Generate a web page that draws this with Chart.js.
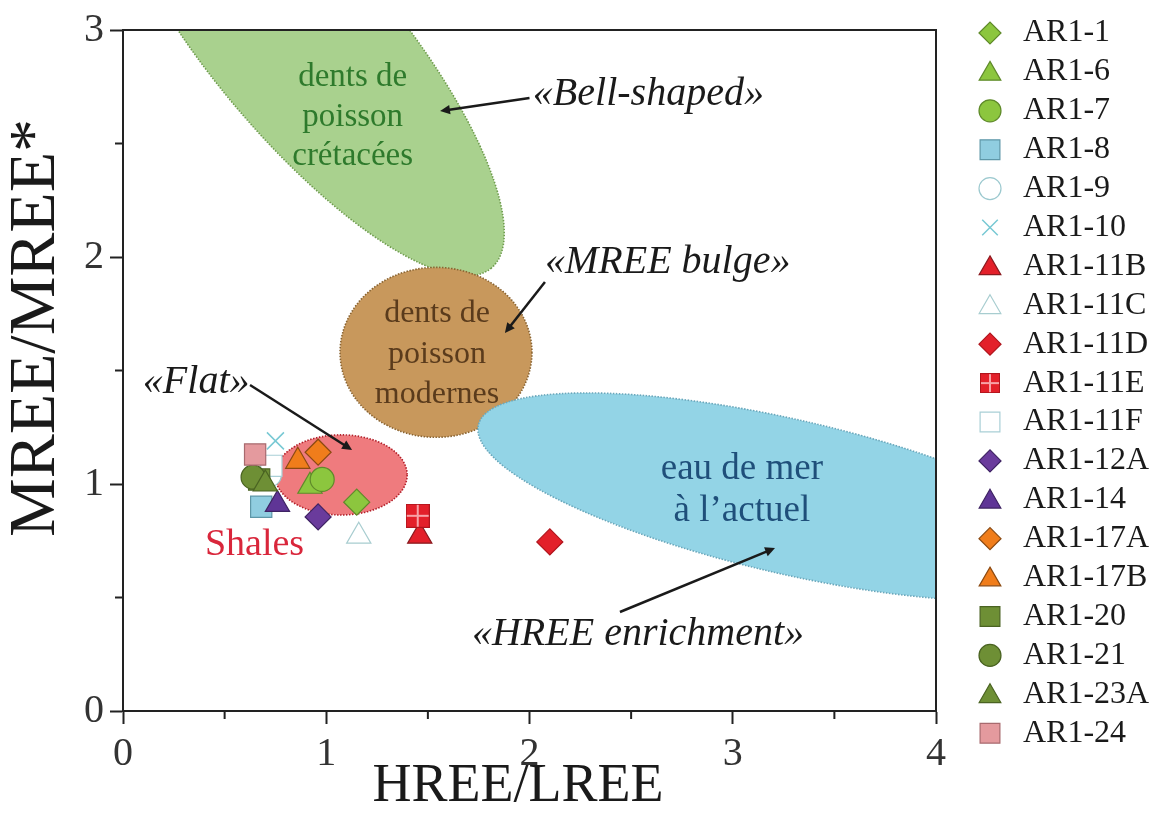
<!DOCTYPE html>
<html lang="fr">
<head>
  <meta charset="UTF-8" />
  <title>HREE/LREE - MREE/MREE*</title>
  <script src="https://cdn.jsdelivr.net/npm/chart.js"></script>
  <style>
    html, body { margin: 0; padding: 0; background: #fff; }
    .chart-wrapper { width: 1153px; height: 823px; position: relative; }
  </style>
</head>
<body>
<div class="chart-wrapper">
  <canvas id="reeChart"></canvas>
</div>

<script>
  // Échantillons et valeurs
  const echantillons = ['AR1-1', 'AR1-6', 'AR1-7', 'AR1-8', 'AR1-9', 'AR1-10', 'AR1-11B', 'AR1-11C', 'AR1-11D',
    'AR1-11E', 'AR1-11F', 'AR1-12A', 'AR1-14', 'AR1-17A', 'AR1-17B', 'AR1-20', 'AR1-21', 'AR1-23A', 'AR1-24'];
  const hreeLree = [1.15, 0.92, 0.98, 0.68, 0.72, 0.75, 1.46, 1.16, 2.10, 1.45, 0.73, 0.96, 0.76, 0.96, 0.86, 0.67, 0.64, 0.70, 0.65];
  const mreeMree = [0.92, 0.99, 1.02, 0.90, 1.04, 1.19, 0.77, 0.77, 0.745, 0.86, 1.08, 0.855, 0.91, 1.14, 1.10, 1.02, 1.03, 1.00, 1.13];
  const xTicks = [0, 1, 2, 3, 4];
  const yTicks = [0, 1, 2, 3];

  // styles des symboles
  const formes = ['rectRot', 'triangle', 'circle', 'rect', 'circle', 'crossRot', 'triangle', 'triangle', 'rectRot',
    'plaid', 'rect', 'rectRot', 'triangle', 'rectRot', 'triangle', 'rect', 'circle', 'triangle', 'rect'];
  const remplissages = ['#8cc63e', '#8cc63e', '#8cc63e', '#90cde0', '#ffffff', '#78c9d4', '#e3202a', '#ffffff', '#e3202a',
    '#e3202a', '#ffffff', '#6a3b9c', '#5f3596', '#f07d1b', '#f07d1b', '#6e8f35', '#6e8f35', '#6e8f35', '#e49a9e'];
  const contours = ['#5f8a2a', '#5f8a2a', '#5f8a2a', '#5e97a8', '#9cc9cf', '#78c9d4', '#8a1a1f', '#a8cdd0', '#b0151d',
    '#b0151d', '#a9cfd6', '#3e2363', '#3e2363', '#8b4a12', '#8b4a12', '#4a6322', '#4a6322', '#4a6322', '#a86a6e'];

  const rayons = { circle: 12, triangle: 14, rect: 15, rectRot: 13, crossRot: 12 };
  const police = '"Liberation Serif", "Times New Roman", serif';

  // domaines (ellipses) et annotations
  const zones = [
    { x: 0.895, y: 2.93, a: 1.427, b: 0.453, angle: 50, fill: '#a9d18e', edge: '#6f9c4e' },
    { x: 1.54, y: 1.58, a: 0.472, b: 0.418, angle: 0, fill: '#c8985c', edge: '#8a6432' },
    { x: 3.282, y: 0.943, a: 1.574, b: 0.379, angle: 13, fill: '#93d4e6', edge: '#6aa7bb' },
    { x: 1.073, y: 1.04, a: 0.325, b: 0.197, angle: 0, fill: '#ef7b7e', edge: '#b3202a' }
  ];
  const textesZones = [
    { lignes: ['dents de', 'poisson', 'crétacées'], x: 1.13, y: 2.79, pas: 0.174, couleur: '#2e7a2c', taille: 33 },
    { lignes: ['dents de', 'poisson', 'modernes'], x: 1.545, y: 1.75, pas: 0.178, couleur: '#5a3b1c', taille: 32 },
    { lignes: ['eau de mer', 'à l’actuel'], x: 3.045, y: 1.063, pas: 0.185, couleur: '#1f4f7a', taille: 37 },
    { lignes: ['Shales'], x: 0.647, y: 0.73, pas: 0, couleur: '#d9263b', taille: 38 }
  ];
  const fleches = [
    { texte: '«Bell-shaped»', tx: 2.585, ty: 2.714, x0: 2.00, y0: 2.70, x1: 1.56, y1: 2.643 },
    { texte: '«MREE bulge»', tx: 2.68, ty: 1.978, x0: 2.076, y0: 1.89, x1: 1.879, y1: 1.665 },
    { texte: '«Flat»', tx: 0.36, ty: 1.449, x0: 0.625, y0: 1.436, x1: 1.127, y1: 1.15 },
    { texte: '«HREE enrichment»', tx: 2.534, ty: 0.335, x0: 2.445, y0: 0.436, x1: 3.208, y1: 0.718 }
  ];

  // carré rouge quadrillé (AR1-11E)
  function carreQuadrille(cote) {
    const c = document.createElement('canvas');
    c.width = cote; c.height = cote;
    const g = c.getContext('2d');
    g.fillStyle = '#e3202a';
    g.fillRect(0, 0, cote, cote);
    g.strokeStyle = '#f7a3a8';
    g.lineWidth = 2;
    g.beginPath();
    g.moveTo(cote / 2, 0); g.lineTo(cote / 2, cote);
    g.moveTo(0, cote / 2); g.lineTo(cote, cote / 2);
    g.stroke();
    g.strokeStyle = '#b0151d';
    g.lineWidth = 1;
    g.strokeRect(0.5, 0.5, cote - 1, cote - 1);
    return c;
  }
  const plaid = carreQuadrille(24);
  const plaidLegende = carreQuadrille(20);

  const datasets = echantillons.map((nom, i) => ({
    label: nom,
    data: [{ x: hreeLree[i], y: mreeMree[i] }],
    pointStyle: formes[i] === 'plaid' ? plaid : formes[i],
    pointRadius: rayons[formes[i]] || 12,
    backgroundColor: remplissages[i],
    borderColor: contours[i],
    borderWidth: formes[i] === 'crossRot' ? 1.5 : 1.2,
    showLine: false,
    order: nom === 'AR1-9' ? 100 : -i
  }));

  function symbole(ctx, forme, x, y, r) {
    ctx.beginPath();
    if (forme === 'circle') {
      ctx.arc(x, y, r, 0, Math.PI * 2);
    } else if (forme === 'rect') {
      const s = r * Math.SQRT1_2;
      ctx.rect(x - s, y - s, 2 * s, 2 * s);
    } else if (forme === 'rectRot') {
      ctx.moveTo(x - r, y); ctx.lineTo(x, y - r); ctx.lineTo(x + r, y); ctx.lineTo(x, y + r); ctx.closePath();
    } else if (forme === 'triangle') {
      for (let k = 0; k < 3; k++) {
        const a = k * 2 * Math.PI / 3;
        const px = x + Math.sin(a) * r, py = y - Math.cos(a) * r;
        k === 0 ? ctx.moveTo(px, py) : ctx.lineTo(px, py);
      }
      ctx.closePath();
    } else if (forme === 'crossRot') {
      const s = r * Math.SQRT1_2;
      ctx.moveTo(x - s, y - s); ctx.lineTo(x + s, y + s);
      ctx.moveTo(x + s, y - s); ctx.lineTo(x - s, y + s);
      ctx.stroke();
      return;
    }
    ctx.fill();
    ctx.stroke();
  }

  function tracerFleche(ctx, x0, y0, x1, y1) {
    const ang = Math.atan2(y1 - y0, x1 - x0);
    ctx.beginPath();
    ctx.moveTo(x0, y0);
    ctx.lineTo(x1 - Math.cos(ang) * 6, y1 - Math.sin(ang) * 6);
    ctx.stroke();
    ctx.beginPath();
    ctx.moveTo(x1, y1);
    ctx.lineTo(x1 - Math.cos(ang - 0.45) * 11, y1 - Math.sin(ang - 0.45) * 11);
    ctx.lineTo(x1 - Math.cos(ang + 0.45) * 11, y1 - Math.sin(ang + 0.45) * 11);
    ctx.closePath();
    ctx.fill();
  }

  const decor = {
    id: 'decor',
    beforeDatasetsDraw(chart) {
      const { ctx, chartArea: ca, scales: { x, y } } = chart;
      const ux = x.getPixelForValue(1) - x.getPixelForValue(0);
      ctx.save();
      ctx.beginPath();
      ctx.rect(ca.left, ca.top, ca.width, ca.height);
      ctx.clip();
      zones.forEach(z => {
        ctx.beginPath();
        ctx.ellipse(x.getPixelForValue(z.x), y.getPixelForValue(z.y), z.a * ux, z.b * ux, z.angle * Math.PI / 180, 0, Math.PI * 2);
        ctx.fillStyle = z.fill;
        ctx.fill();
        ctx.setLineDash([1.5, 1.5]);
        ctx.lineWidth = 1.6;
        ctx.strokeStyle = z.edge;
        ctx.stroke();
      });
      ctx.restore();

      ctx.save();
      ctx.textAlign = 'center';
      ctx.textBaseline = 'middle';
      textesZones.forEach(t => {
        ctx.font = t.taille + 'px ' + police;
        ctx.fillStyle = t.couleur;
        t.lignes.forEach((l, k) => {
          ctx.fillText(l, x.getPixelForValue(t.x), y.getPixelForValue(t.y - k * t.pas));
        });
      });
      ctx.font = 'italic 40px ' + police;
      ctx.fillStyle = '#1a1a1a';
      ctx.strokeStyle = '#1a1a1a';
      ctx.lineWidth = 2.5;
      fleches.forEach(f => {
        ctx.fillText(f.texte, x.getPixelForValue(f.tx), y.getPixelForValue(f.ty));
        tracerFleche(ctx, x.getPixelForValue(f.x0), y.getPixelForValue(f.y0), x.getPixelForValue(f.x1), y.getPixelForValue(f.y1));
      });
      ctx.restore();
    },
    afterDraw(chart) {
      const { ctx, chartArea: ca, scales: { x, y } } = chart;
      ctx.save();
      // cadre haut et droit
      ctx.strokeStyle = '#222';
      ctx.lineWidth = 2;
      ctx.beginPath();
      ctx.moveTo(ca.left, ca.top); ctx.lineTo(ca.right, ca.top); ctx.lineTo(ca.right, ca.bottom);
      ctx.stroke();
      // graduations secondaires
      ctx.beginPath();
      [0.5, 1.5, 2.5, 3.5].forEach(v => {
        const px = x.getPixelForValue(v);
        ctx.moveTo(px, ca.bottom); ctx.lineTo(px, ca.bottom + 8);
      });
      [0.5, 1.5, 2.5].forEach(v => {
        const py = y.getPixelForValue(v);
        ctx.moveTo(ca.left - 8, py); ctx.lineTo(ca.left, py);
      });
      ctx.stroke();

      // titres des axes
      ctx.fillStyle = '#1a1a1a';
      ctx.textAlign = 'center';
      ctx.textBaseline = 'middle';
      ctx.font = '54px ' + police;
      ctx.fillText('HREE/LREE', 518, 787);
      ctx.save();
      ctx.translate(37, 328);
      ctx.rotate(-Math.PI / 2);
      ctx.font = '66px ' + police;
      ctx.fillText('MREE/MREE*', 0, 0);
      ctx.restore();

      // légende
      ctx.font = '32px ' + police;
      ctx.textAlign = 'left';
      echantillons.forEach((nom, i) => {
        const yy = 33 + 38.9 * i;
        if (formes[i] === 'plaid') {
          ctx.drawImage(plaidLegende, 980, yy - 10);
        } else {
          ctx.fillStyle = remplissages[i];
          ctx.strokeStyle = contours[i];
          ctx.lineWidth = formes[i] === 'crossRot' ? 1.5 : 1.2;
          const r = formes[i] === 'rect' ? 14 : (formes[i] === 'triangle' ? 12.5 : 11);
          symbole(ctx, formes[i], 990, formes[i] === 'triangle' ? yy + 2 : yy, r);
        }
        ctx.fillStyle = '#1a1a1a';
        ctx.fillText(nom, 1023, yy);
      });
      ctx.restore();
    }
  };

  const axeCommun = {
    type: 'linear',
    border: { display: true, color: '#222', width: 2 },
    grid: { drawOnChartArea: false, drawTicks: true, tickLength: 13, tickWidth: 2, tickColor: '#222' },
    ticks: { stepSize: 1, color: '#333', font: { family: police, size: 40 }, padding: 6 }
  };

  new Chart(document.getElementById('reeChart'), {
    type: 'scatter',
    data: { datasets },
    options: {
      responsive: true,
      maintainAspectRatio: false,
      animation: false,
      events: [],
      layout: { padding: { left: 0, top: 30, right: 217, bottom: 0 } },
      plugins: { legend: { display: false }, tooltip: { enabled: false } },
      scales: {
        x: {
          ...axeCommun,
          min: xTicks[0], max: xTicks[xTicks.length - 1],
          afterBuildTicks: s => { s.ticks = xTicks.map(v => ({ value: v })); },
          afterFit: s => { s.height = 112; }
        },
        y: {
          ...axeCommun,
          min: yTicks[0], max: yTicks[yTicks.length - 1],
          afterBuildTicks: s => { s.ticks = yTicks.map(v => ({ value: v })); },
          afterFit: s => { s.width = 123; }
        }
      }
    },
    plugins: [decor]
  });
</script>
</body>
</html>
